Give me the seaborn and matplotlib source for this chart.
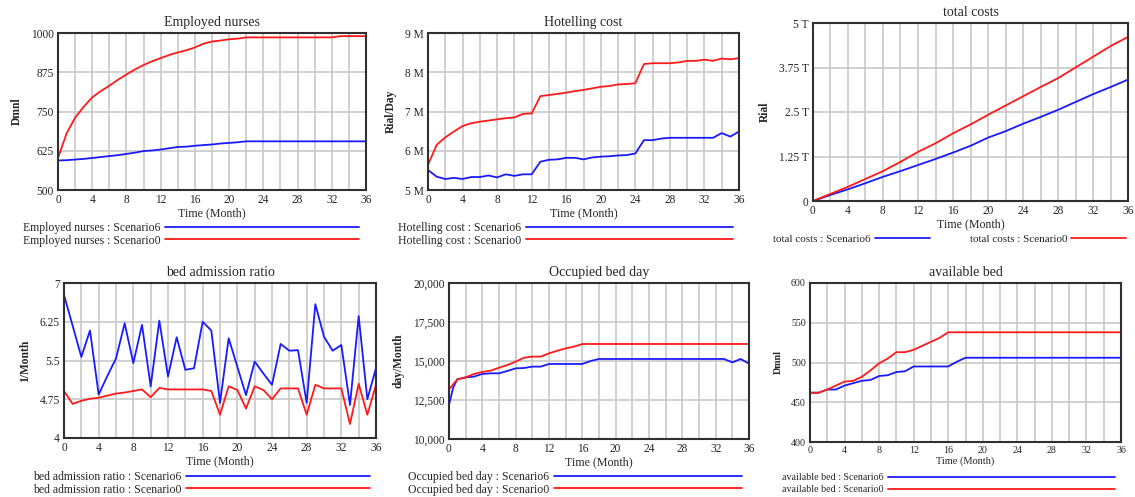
import pandas as pd
import seaborn as sns
import matplotlib.pyplot as plt

sns.set_style("white")
plt.rcParams['font.family'] = ['Liberation Serif', 'DejaVu Serif']

W, H = 1135, 497
BLUE = '#1a1aff'
RED = '#ff1a1a'

# ---- Employed nurses (Dmnl) ----
nurses_t6 = [0, 1, 2, 3, 4, 5, 6, 7, 8, 9, 10, 11, 12, 13, 14, 15, 16, 17, 18, 19, 20, 21, 22, 36]
nurses_s6 = [594, 595, 597, 599, 602, 605, 608, 611, 615, 619, 624, 626, 629, 633, 637, 638, 641, 643,
             645, 648, 650, 652, 655, 655]
nurses_t0 = [0, 1, 2, 3, 4, 5, 6, 7, 8, 9, 10, 11, 12, 13, 14, 15, 16, 17, 18, 19, 20, 21, 22, 32, 33, 36]
nurses_s0 = [602, 680, 730, 765, 795, 815, 832, 851, 868, 884, 898, 910, 920, 930, 938, 945, 954, 966,
             973, 976, 980, 982, 986, 986, 990, 990]

# ---- Hotelling cost (million Rial/Day), monthly ----
months = list(range(37))
hotel_s6 = [5.51, 5.34, 5.28, 5.31, 5.28, 5.33, 5.33, 5.37, 5.32, 5.40, 5.36, 5.40, 5.40,
            5.72, 5.77, 5.78, 5.82, 5.82, 5.78, 5.83, 5.85, 5.86, 5.88, 5.89, 5.93,
            6.27, 6.27, 6.31, 6.33, 6.33, 6.33, 6.33, 6.33, 6.33, 6.45, 6.36, 6.49]
hotel_s0 = [5.64, 6.15, 6.34, 6.49, 6.63, 6.70, 6.74, 6.77, 6.80, 6.83, 6.85, 6.94, 6.95,
            7.39, 7.42, 7.45, 7.48, 7.52, 7.55, 7.59, 7.63, 7.65, 7.69, 7.70, 7.72,
            8.21, 8.23, 8.23, 8.23, 8.25, 8.29, 8.29, 8.32, 8.29, 8.35, 8.33, 8.36]

# ---- total costs (trillion Rial), every 2 months ----
cost_t = [0, 2, 4, 6, 8, 10, 12, 14, 16, 18, 20, 22, 24, 26, 28, 30, 32, 34, 36]
cost_s6 = [0, 0.17, 0.33, 0.50, 0.68, 0.84, 1.01, 1.18, 1.36, 1.55, 1.78, 1.96, 2.17, 2.36,
           2.56, 2.78, 3.00, 3.20, 3.41]
cost_s0 = [0, 0.20, 0.40, 0.62, 0.84, 1.10, 1.38, 1.62, 1.90, 2.15, 2.42, 2.68, 2.94, 3.20,
           3.45, 3.75, 4.05, 4.35, 4.61]

# ---- bed admission ratio (1/Month), monthly ----
ratio_s6 = [6.77, 6.17, 5.57, 6.08, 4.84, 5.20, 5.54, 6.22, 5.45, 6.19,
            5.00, 6.27, 5.19, 5.95, 5.32, 5.35, 6.25, 6.08, 4.68, 5.93,
            5.38, 4.83, 5.48, 5.25, 5.03, 5.82, 5.69, 5.70, 4.68, 6.59,
            5.96, 5.69, 5.80, 4.64, 6.36, 4.75, 5.35]
ratio_s0 = [4.91, 4.66, 4.72, 4.76, 4.78, 4.82, 4.86, 4.88, 4.91, 4.94,
            4.79, 4.97, 4.94, 4.94, 4.94, 4.94, 4.94, 4.91, 4.45, 5.00,
            4.93, 4.57, 5.00, 4.93, 4.75, 4.96, 4.96, 4.96, 4.45, 5.03,
            4.96, 4.96, 4.96, 4.27, 5.05, 4.45, 5.03]

# ---- Occupied bed day (day/Month) ----
bedday_t6 = [0, 0.5, 1, 2, 3, 4, 5, 6, 7, 8, 9, 10, 11, 12, 16, 17, 18, 33, 34, 35, 36]
bedday_s6 = [12180, 13300, 13825, 13950, 14000, 14170, 14210, 14210, 14360, 14530, 14550, 14640,
             14640, 14810, 14810, 15000, 15130, 15130, 14910, 15130, 14830]
bedday_t0 = [0, 0.5, 1, 2, 3, 4, 5, 6, 7, 8, 9, 10, 11, 12, 13, 14, 15, 16, 36]
bedday_s0 = [13180, 13500, 13825, 13950, 14170, 14300, 14380, 14570, 14740, 14960, 15210, 15280,
             15280, 15490, 15660, 15810, 15920, 16090, 16090]

# ---- available bed (Dmnl) ----
avail_t6 = [0, 1, 2, 3, 4, 5, 6, 7, 8, 9, 10, 11, 12, 16, 17, 18, 36]
avail_s6 = [462, 462, 466, 466, 471, 474, 477, 478, 483, 484, 488, 489, 495, 495, 501, 506, 506]
avail_t0 = [0, 1, 2, 3, 4, 5, 6, 7, 8, 9, 10, 11, 12, 13, 14, 15, 16, 36]
avail_s0 = [462, 462, 466, 471, 476, 477, 482, 490, 499, 505, 513, 513, 516, 521, 526, 531, 538, 538]


def long_form(name, t6, v6, t0, v0):
    a = pd.DataFrame({'time': t6, 'value': v6, 'series': f'{name} : Scenario6'})
    b = pd.DataFrame({'time': t0, 'value': v0, 'series': f'{name} : Scenario0'})
    return pd.concat([a, b], ignore_index=True)


fig = plt.figure(figsize=(W / 100, H / 100), dpi=100)


def panel(box, df, title, ylabel, yticks, ylabels, legend, fs=8.3):
    x0, y0, x1, y1 = box
    ax = fig.add_axes([x0 / W, 1 - y1 / H, (x1 - x0) / W, (y1 - y0) / H])
    names = list(df['series'].unique())
    sns.lineplot(data=df, x='time', y='value', hue='series', hue_order=names,
                 palette=dict(zip(names, [BLUE, RED])), linewidth=1.3, ax=ax)
    ax.set_xlim(0, 36)
    ax.set_ylim(yticks[0], yticks[-1])
    ax.set_xticks(range(0, 37, 4))
    ax.set_xticks(range(0, 37, 2), minor=True)
    ax.set_yticks(yticks, ylabels)
    ax.grid(True, which='both', color='#c8c8c8', linewidth=1.2)
    ax.set_axisbelow(True)
    ax.tick_params(which='both', length=0, pad=3, labelsize=fs)
    for s in ax.spines.values():
        s.set_color('#303030')
        s.set_linewidth(1.5)
    ax.set_title(title, fontsize=10, pad=5)
    ax.set_xlabel('Time (Month)', fontsize=fs + 0.3, labelpad=1)
    ax.set_ylabel(ylabel, fontsize=fs, fontweight='bold', labelpad=6)

    lx, ly, hl, lfs, ncol, lsp = legend
    ax.legend(loc='upper left', bbox_to_anchor=(lx / W, 1 - ly / H), bbox_transform=fig.transFigure,
              markerfirst=False, frameon=False, handlelength=hl, fontsize=lfs, ncol=ncol,
              borderpad=0, borderaxespad=0, labelspacing=lsp, handletextpad=0.4,
              columnspacing=3.6)
    return ax


panel((58, 33, 366, 190), long_form('Employed nurses', nurses_t6, nurses_s6, nurses_t0, nurses_s0),
      'Employed nurses', 'Dmnl', [500, 625, 750, 875, 1000], ['500', '625', '750', '875', '1000'],
      (23, 222, 16.4, 8.5, 1, 0.05))

panel((428, 33, 739, 190), long_form('Hotelling cost', months, hotel_s6, months, hotel_s0),
      'Hotelling cost', 'Rial/Day', [5, 6, 7, 8, 9], ['5 M', '6 M', '7 M', '8 M', '9 M'],
      (398, 222, 17.5, 8.5, 1, 0.05))

panel((813, 23, 1128, 201), long_form('total costs', cost_t, cost_s6, cost_t, cost_s0),
      'total costs', 'Rial', [0, 1.25, 2.5, 3.75, 5], ['0', '1.25 T', '2.5 T', '3.75 T', '5 T'],
      (773, 234, 4.9, 8.0, 2, 0.05))

panel((64, 283, 376, 438), long_form('bed admission ratio', months, ratio_s6, months, ratio_s0),
      'bed admission ratio', '1/Month', [4, 4.75, 5.5, 6.25, 7], ['4', '4.75', '5.5', '6.25', '7'],
      (33, 471, 15.6, 8.5, 1, 0.05))

panel((449, 283, 749, 439), long_form('Occupied bed day', bedday_t6, bedday_s6, bedday_t0, bedday_s0),
      'Occupied bed day', 'day/Month', [10000, 12500, 15000, 17500, 20000],
      ['10,000', '12,500', '15,000', '17,500', '20,000'],
      (408, 471, 15.9, 8.5, 1, 0.05))

panel((810, 283, 1121, 442), long_form('available bed', avail_t6, avail_s6, avail_t0, avail_s0),
      'available bed', 'Dmnl', [400, 450, 500, 550, 600], ['400', '450', '500', '550', '600'],
      (782, 473, 22.7, 7.2, 1, 0.3), fs=7.2)

fig.savefig('out.png', dpi=100)
